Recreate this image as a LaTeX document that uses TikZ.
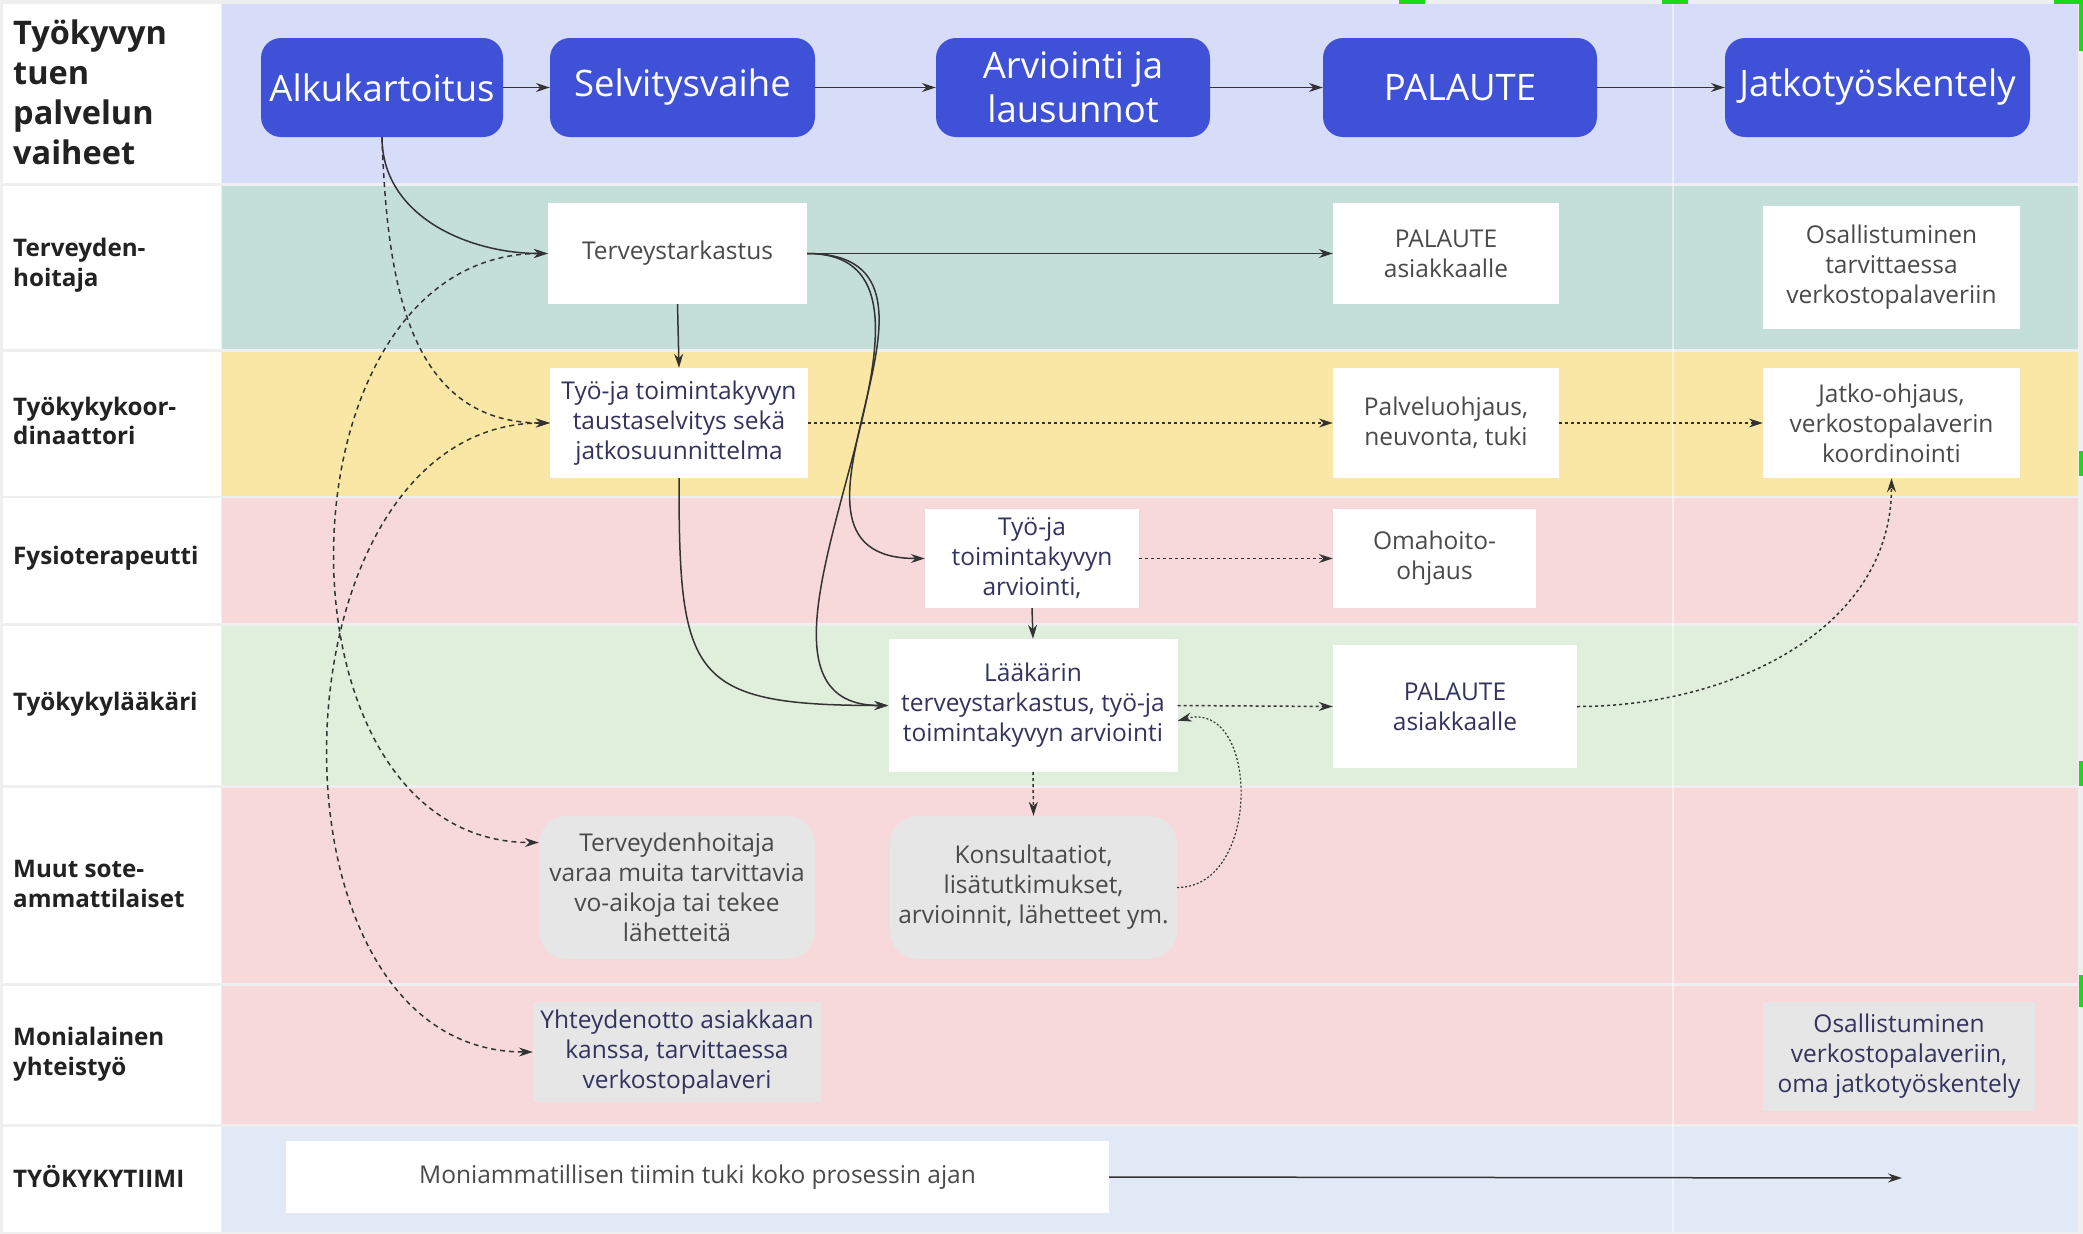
\documentclass[tikz,border=0pt]{standalone}
\usepackage{fontspec}
\setmainfont{Open Sans}
\usetikzlibrary{arrows.meta}

\definecolor{gapGray}{HTML}{EFEFEF}
\definecolor{bandHead}{HTML}{D7DCF9}
\definecolor{bandTeal}{HTML}{C4DFD7}
\definecolor{bandYellow}{HTML}{FAE7A5}
\definecolor{bandPink}{HTML}{F7D9DB}
\definecolor{bandGreen}{HTML}{E0EFDC}
\definecolor{bandBlue}{HTML}{E2E9F6}
\definecolor{phaseBlue}{HTML}{3F51D6}
\definecolor{boxGray}{HTML}{E6E6E6}
\definecolor{txtGray}{HTML}{4A4A4A}
\definecolor{txtNavy}{HTML}{33335F}
\definecolor{labText}{HTML}{222222}
\definecolor{lineDark}{HTML}{333333}
\definecolor{markGreen}{HTML}{19D919}

\tikzset{
	phase/.style={rectangle, rounded corners=20pt, fill=phaseBlue, text=white, align=center,
		inner sep=0pt, minimum height=99pt, font=\fontsize{36.5}{44}\selectfont},
	task/.style 2 args={rectangle, fill=white, text=txtGray, align=center, inner sep=0pt,
		minimum width=#1, minimum height=#2, font=\fontsize{24.5}{30}\selectfont},
	navy/.style={text=txtNavy},
	grey/.style={fill=boxGray},
	soft/.style={rounded corners=28pt},
	lane/.style={anchor=west, align=left, inner sep=0pt, text=labText,
		font=\bfseries\fontsize{24.2}{29.5}\selectfont},
	flow/.style={draw=lineDark, line width=1.5pt},
	dashline/.style={flow, dash pattern=on 5pt off 4pt},
	dotline/.style={flow, dash pattern=on 3pt off 3pt},
	fineline/.style={flow, line width=1.2pt, dash pattern=on 2pt off 2pt}
}

\begin{document}
\begin{tikzpicture}[x=1pt, y=-1pt, >={Stealth[length=14pt,width=9pt]}]
	\useasboundingbox (0,0) rectangle (2083,1234);

	% background and swim lanes
	\fill[gapGray] (0,0) rectangle (2083,1234);
	\foreach \yT/\yB/\c in {4/183/bandHead, 186/349/bandTeal, 352/496/bandYellow, 498/623/bandPink,
		626/785/bandGreen, 788/983/bandPink, 986/1124/bandPink, 1127/1232/bandBlue}
	{
		\fill[white] (3,\yT) rectangle (221,\yB);
		\fill[\c] (222,\yT) rectangle (2078,\yB);
	}
	\draw[white, opacity=0.5, line width=1.5pt] (1673,4) -- (1673,1232);

	\begin{scope}[markGreen]
		\fill (1399,0) rectangle (1425,4);
		\fill (1662,0) rectangle (1688,4);
		\fill (2054,0) rectangle (2083,4);
		\fill (2079,0) rectangle (2083,51);
		\fill (2079,451) rectangle (2083,476);
		\fill (2079,761) rectangle (2083,786);
		\fill (2079,975) rectangle (2083,1007);
	\end{scope}

	% lane titles
	\node[lane, font=\bfseries\fontsize{32.5}{40}\selectfont] (labHead) at (13,92) {Työkyvyn\\tuen\\palvelun\\vaiheet};
	\node[lane] (labTerv) at (13,265) {Terveyden-\\hoitaja};
	\node[lane] (labKoord) at (13,421) {Työkykykoor-\\dinaattori};
	\node[lane] (labFysio) at (13,558) {Fysioterapeutti};
	\node[lane] (labLaak) at (13,704) {Työkykylääkäri};
	\node[lane] (labSote) at (13,884) {Muut sote-\\ammattilaiset};
	\node[lane] (labMoni) at (13,1054) {Monialainen\\yhteistyö};
	\node[lane] (labTiimi) at (13,1177) {TYÖKYKYTIIMI};

	% phases
	\node[phase, minimum width=242pt] (alku) at (382,87.5) {Alkukartoitus};
	\node[phase, minimum width=265pt] (selv) at (682.5,87.5) {Selvitysvaihe};
	\node[phase, minimum width=274pt] (arvi) at (1073,87.5) {Arviointi ja\\lausunnot};
	\node[phase, minimum width=274pt] (pala) at (1460,87.5) {PALAUTE};
	\node[phase, minimum width=305pt] (jatko) at (1877.5,87.5) {Jatkotyöskentely};

	% tasks
	\node[task={259pt}{101pt}] (terv) at (677.5,253.5) {Terveystarkastus};
	\node[task={226pt}{101pt}] (pal1) at (1446,253.5) {PALAUTE\\asiakkaalle};
	\node[task={257pt}{123pt}] (osal1) at (1891.5,267.5) {Osallistuminen\\tarvittaessa\\verkostopalaveriin};

	\node[task={258pt}{110pt}, navy] (taus) at (679,423) {Työ-ja toimintakyvyn\\taustaselvitys sekä\\jatkosuunnittelma};
	\node[task={226pt}{110pt}] (palv) at (1446,423) {Palveluohjaus,\\neuvonta, tuki};
	\node[task={257pt}{110pt}] (jatk) at (1891.5,423) {Jatko-ohjaus,\\verkostopalaverin\\koordinointi};

	\node[task={214pt}{99pt}, navy] (arvio) at (1032,558.5) {Työ-ja\\toimintakyvyn\\arviointi,};
	\node[task={203pt}{99pt}] (omah) at (1434.5,558.5) {Omahoito-\\ohjaus};

	\node[task={289pt}{133pt}, navy] (laak) at (1033,705.5) {Lääkärin\\terveystarkastus, työ-ja\\toimintakyvyn arviointi};
	\node[task={244pt}{123pt}, navy] (pal4) at (1455,706.5) {PALAUTE\\asiakkaalle};

	\node[task={276pt}{143pt}, grey, soft] (varaa) at (677,887.5) {Terveydenhoitaja\\varaa muita tarvittavia\\vo-aikoja tai tekee\\lähetteitä};
	\node[task={287pt}{143pt}, grey, soft] (kons) at (1033.5,887.5) {Konsultaatiot,\\lisätutkimukset,\\arvioinnit, lähetteet ym.};

	\node[task={288pt}{100pt}, grey, navy] (yht) at (677,1052) {Yhteydenotto asiakkaan\\kanssa, tarvittaessa\\verkostopalaveri};
	\node[task={272pt}{109pt}, grey, navy] (osal6) at (1899,1056.5) {Osallistuminen\\verkostopalaveriin,\\oma jatkotyöskentely};

	\node[task={823pt}{72pt}] (tiimi) at (697.5,1177) {Moniammatillisen tiimin tuki koko prosessin ajan};
	\coordinate (tiimiEnd) at (1902,1178);

	% connectors
	\begin{scope}[flow, ->]
		\draw (alku) -- (selv);
		\draw (selv) -- (arvi);
		\draw (arvi) -- (pala);
		\draw (pala) -- (jatko);
		\draw (alku.south) to[out=-90, in=180] (terv.west);
		\draw (terv.south) -- (taus.north);
		\draw (terv.east) -- (pal1.west);
		\draw (terv.east) to[out=0, in=180, looseness=1.45] (arvio.west);
		\draw (terv.east) to[out=0, in=180, looseness=1.1] (laak.west);
		\draw (taus.south) to[out=-90, in=180, looseness=1.65] (laak.west);
		\draw (arvio.south) -- (laak.north);
		\draw (tiimi.east) -- (tiimiEnd);
	\end{scope}

	\begin{scope}[dashline]
		\draw[->] (alku.south) to[out=-88, in=180, looseness=1.1] (taus.west);
		\draw[<->] (terv.west) to[out=180, in=180, looseness=1.2] ([yshift=45pt]varaa.west);
		\draw[<->] (taus.west) to[out=180, in=180, looseness=1.15] (yht.west);
	\end{scope}

	\begin{scope}[dotline, ->]
		\draw (taus) -- (palv);
		\draw (palv) -- (jatk);
		\draw (arvio) -- (omah);
		\draw (laak.east) -- (pal4.west);
		\draw (laak.south) -- (kons.north);
		\draw (pal4.east) to[out=0, in=-90] (jatk.south);
	\end{scope}

	\draw[fineline, ->] (kons.east) to[out=0, in=15, looseness=1.3] (laak.-6);
\end{tikzpicture}
\end{document}
